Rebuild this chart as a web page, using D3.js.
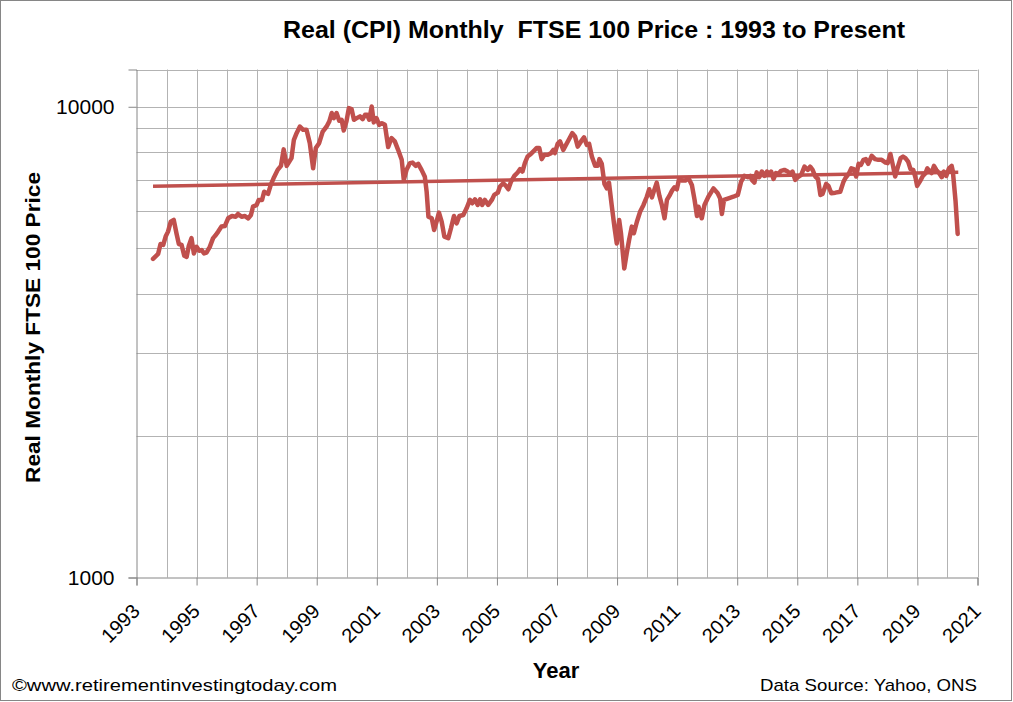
<!DOCTYPE html>
<html>
<head>
<meta charset="utf-8">
<script src="https://cdn.jsdelivr.net/npm/d3@7"></script>
<style>
  body { margin: 0; background: #fff; }
  svg { display: block; font-family: "Liberation Sans", Arial, sans-serif; }
  text { white-space: pre; }
</style>
</head>
<body>
<svg id="chart" width="1013" height="702"></svg>
<script>
// Real (CPI) monthly FTSE 100
const years = [
  1993.55, 1993.72, 1993.80, 1993.89, 1993.97, 1994.05, 1994.14, 1994.24, 1994.33, 1994.41,
  1994.50, 1994.59, 1994.67, 1994.74, 1994.83, 1994.91, 1995.00, 1995.09, 1995.17, 1995.25,
  1995.33, 1995.44, 1995.55, 1995.64, 1995.72, 1995.83, 1995.94, 1996.05, 1996.18, 1996.30,
  1996.38, 1996.50, 1996.61, 1996.72, 1996.81, 1996.88, 1997.00, 1997.07, 1997.18, 1997.25,
  1997.38, 1997.47, 1997.58, 1997.70, 1997.81, 1997.90, 1998.00, 1998.16, 1998.24, 1998.33,
  1998.44, 1998.55, 1998.66, 1998.77, 1998.88, 1998.97, 1999.08, 1999.20, 1999.33, 1999.42,
  1999.50, 1999.57, 1999.66, 1999.75, 1999.83, 1999.90, 1999.99, 2000.07, 2000.16, 2000.24,
  2000.33, 2000.44, 2000.53, 2000.61, 2000.68, 2000.75, 2000.83, 2000.90, 2000.99, 2001.08,
  2001.17, 2001.27, 2001.38, 2001.49, 2001.60, 2001.71, 2001.83, 2001.90, 2001.99, 2002.10,
  2002.19, 2002.30, 2002.38, 2002.49, 2002.60, 2002.66, 2002.72, 2002.83, 2002.91, 2002.99,
  2003.07, 2003.16, 2003.25, 2003.38, 2003.47, 2003.57, 2003.66, 2003.75, 2003.88, 2003.99,
  2004.10, 2004.18, 2004.27, 2004.36, 2004.44, 2004.51, 2004.60, 2004.71, 2004.83, 2004.91,
  2005.03, 2005.10, 2005.21, 2005.30, 2005.38, 2005.47, 2005.58, 2005.69, 2005.77, 2005.85,
  2005.93, 2006.02, 2006.13, 2006.24, 2006.32, 2006.41, 2006.49, 2006.58, 2006.69, 2006.80,
  2006.88, 2006.93, 2007.02, 2007.10, 2007.21, 2007.40, 2007.51, 2007.60, 2007.69, 2007.80,
  2007.90, 2007.99, 2008.07, 2008.16, 2008.27, 2008.36, 2008.41, 2008.49, 2008.58, 2008.66,
  2008.73, 2008.82, 2008.91, 2008.99, 2009.07, 2009.13, 2009.24, 2009.32, 2009.40, 2009.49,
  2009.56, 2009.66, 2009.77, 2009.88, 2009.99, 2010.07, 2010.16, 2010.24, 2010.32, 2010.41,
  2010.49, 2010.58, 2010.66, 2010.74, 2010.83, 2010.91, 2010.99, 2011.07, 2011.16, 2011.27,
  2011.38, 2011.49, 2011.58, 2011.66, 2011.71, 2011.82, 2011.91, 2012.04, 2012.21, 2012.35,
  2012.43, 2012.49, 2012.56, 2012.71, 2012.87, 2013.02, 2013.13, 2013.24, 2013.35, 2013.43,
  2013.49, 2013.57, 2013.65, 2013.73, 2013.82, 2013.91, 2013.99, 2014.07, 2014.13, 2014.21,
  2014.29, 2014.37, 2014.46, 2014.57, 2014.68, 2014.76, 2014.84, 2014.93, 2015.02, 2015.13,
  2015.24, 2015.35, 2015.43, 2015.51, 2015.60, 2015.69, 2015.77, 2015.84, 2015.96, 2016.04,
  2016.13, 2016.27, 2016.43, 2016.54, 2016.60, 2016.71, 2016.80, 2016.88, 2016.96, 2017.04,
  2017.12, 2017.20, 2017.28, 2017.36, 2017.48, 2017.59, 2017.70, 2017.81, 2017.94, 2018.01,
  2018.10, 2018.18, 2018.26, 2018.35, 2018.44, 2018.52, 2018.60, 2018.69, 2018.77, 2018.86,
  2018.94, 2018.99, 2019.10, 2019.18, 2019.27, 2019.33, 2019.40, 2019.47, 2019.55, 2019.63,
  2019.72, 2019.81, 2019.88, 2019.96, 2020.05, 2020.14, 2020.18, 2020.27, 2020.34
];
const realPrice = [
  4750, 4870, 5110, 5090, 5300, 5430, 5700, 5750, 5385, 5110,
  5090, 4825, 4800, 5060, 5260, 4880, 5040, 4945, 4960, 4880,
  4900, 5040, 5260, 5340, 5430, 5565, 5580, 5795, 5860, 5840,
  5920, 5840, 5860, 5795, 5890, 6135, 6187, 6340, 6340, 6600,
  6530, 6824, 7085, 7344, 7490, 8120, 7490, 7780, 8507, 8790,
  9080, 8934, 8934, 8370, 7400, 8170, 8370, 8860, 9080, 9310,
  9700, 9460, 9700, 9340, 9383, 8905, 9310, 9935, 9890, 9383,
  9460, 9540, 9410, 9616, 9616, 9383, 10010, 9265, 9460, 9156,
  9230, 9156, 8210, 8580, 8440, 8100, 7713, 6993, 7344, 7590,
  7610, 7490, 7565, 7344, 7100, 6600, 5840, 5795, 5474, 5700,
  5960, 5700, 5300, 5260, 5520, 5860, 5655, 5860, 5890, 6085,
  6340, 6238, 6360, 6187, 6360, 6187, 6340, 6187, 6340, 6498,
  6570, 6770, 6880, 6790, 6680, 6935, 7130, 7250, 7370, 7285,
  7590, 7840, 7940, 8070, 8170, 8170, 7740, 7904, 7904, 7970,
  8100, 7970, 8340, 8440, 8100, 8530, 8790, 8650, 8230, 8440,
  8610, 8301, 8340, 7840, 7490, 7490, 7740, 7565, 6857, 6710,
  6900, 6187, 5565, 5125, 5749, 5385, 4535, 4880, 5212, 5565,
  5385, 5700, 5990, 6187, 6440, 6680, 6420, 6659, 6900, 6465,
  6187, 5795, 6340, 6465, 6635, 6745, 6680, 7050, 6970, 6970,
  7050, 6824, 6340, 5860, 6135, 5795, 6187, 6440, 6710, 6550,
  6390, 5920, 6340, 6390, 6440, 6498, 6935, 7130, 7085, 7130,
  6993, 6900, 7255, 7085, 7285, 7130, 7285, 7200, 7285, 7025,
  7230, 7200, 7310, 7344, 7285, 7200, 7285, 6993, 7085, 7166,
  7460, 7344, 7460, 7344, 7110, 7025, 6498, 6530, 6857, 6790,
  6550, 6570, 6600, 6935, 7050, 7200, 7400, 7370, 7110, 7565,
  7526, 7713, 7740, 7565, 7870, 7740, 7713, 7713, 7610, 7590,
  7940, 7526, 7110, 7460, 7780, 7840, 7780, 7650, 7370, 7344,
  7050, 6790, 6970, 7130, 7230, 7400, 7310, 7230, 7490, 7344,
  7230, 7085, 7285, 7130, 7400, 7490, 7285, 6290, 5370
];

// long run trend line
const trendYears = [1993.55, 2020.36];
const trendValues = [6780, 7260];

const yTickValues = [1000, 10000];
const yGridValues = [2000, 3000, 4000, 5000, 6000, 7000, 8000, 9000, 10000, 12000];
const xTickValues = d3.range(1993, 2022, 2);
const xGridValues = d3.range(1994, 2022, 1);

const width = 1013;
const height = 702;
const plotLeft = 136.5, plotRight = 977.5, plotTop = 69.5, plotBottom = 577.5;

const lineColor = "#c0504d";
const gridColor = "#b3b3b3";
const axisColor = "#868686";

const svg = d3.select("#chart");

const x = d3.scaleLinear().domain([1993, 2021]).range([plotLeft, plotRight]);
const y = d3.scaleLog().domain([1000, 12000]).range([plotBottom, plotTop]);

// outer border
svg.append("rect")
  .attr("x", 0.5).attr("y", 0.5)
  .attr("width", width - 2).attr("height", height - 2)
  .attr("fill", "#fff")
  .attr("stroke", axisColor);

// grid
svg.append("g")
  .selectAll("line")
  .data(yGridValues)
  .join("line")
  .attr("x1", plotLeft).attr("x2", plotRight)
  .attr("y1", d => Math.round(y(d)) + 0.5)
  .attr("y2", d => Math.round(y(d)) + 0.5)
  .attr("stroke", gridColor);

svg.append("g")
  .selectAll("line")
  .data(xGridValues)
  .join("line")
  .attr("x1", d => Math.round(x(d)) + 0.5)
  .attr("x2", d => Math.round(x(d)) + 0.5)
  .attr("y1", plotTop).attr("y2", plotBottom)
  .attr("stroke", gridColor);

// axes
const yAxis = svg.append("g")
  .attr("transform", `translate(${plotLeft},0)`)
  .call(d3.axisLeft(y).tickValues(yTickValues).tickFormat(d3.format("d")).tickSize(8).tickPadding(14));

const xAxis = svg.append("g")
  .attr("transform", `translate(0,${plotBottom})`)
  .call(d3.axisBottom(x).tickValues(xTickValues).tickFormat(d3.format("d")).tickSize(8));

[yAxis, xAxis].forEach(a => {
  a.select(".domain").attr("stroke", axisColor);
  a.selectAll(".tick line").attr("stroke", axisColor);
});

yAxis.selectAll(".tick text")
  .attr("font-size", "21px")
  .attr("fill", "#000")
  .attr("font-family", "Liberation Sans, Arial, sans-serif");

xAxis.selectAll(".tick text")
  .attr("x", 0).attr("y", 0).attr("dy", 0)
  .attr("text-anchor", "end")
  .attr("transform", "translate(4,35) rotate(-45)")
  .attr("font-size", "20px")
  .attr("fill", "#000")
  .attr("font-family", "Liberation Sans, Arial, sans-serif");

// series
const line = d3.line()
  .x(d => x(d[0]))
  .y(d => y(d[1]));

svg.append("path")
  .datum(d3.zip(trendYears, trendValues))
  .attr("d", line)
  .attr("fill", "none")
  .attr("stroke", lineColor)
  .attr("stroke-width", 3.5);

svg.append("path")
  .datum(d3.zip(years, realPrice))
  .attr("d", line)
  .attr("fill", "none")
  .attr("stroke", lineColor)
  .attr("stroke-width", 4.5)
  .attr("stroke-linejoin", "round")
  .attr("stroke-linecap", "round");

// titles
svg.append("text")
  .attr("x", 594).attr("y", 38)
  .attr("text-anchor", "middle")
  .attr("font-size", "24px")
  .attr("font-weight", "bold")
  .attr("textLength", 622)
  .attr("lengthAdjust", "spacingAndGlyphs")
  .text("Real (CPI) Monthly  FTSE 100 Price : 1993 to Present");

svg.append("text")
  .attr("transform", "translate(40,327.5) rotate(-90)")
  .attr("text-anchor", "middle")
  .attr("font-size", "21px")
  .attr("font-weight", "bold")
  .attr("textLength", 311)
  .attr("lengthAdjust", "spacingAndGlyphs")
  .text("Real Monthly FTSE 100 Price");

svg.append("text")
  .attr("x", 556).attr("y", 678)
  .attr("text-anchor", "middle")
  .attr("font-size", "22px")
  .attr("font-weight", "bold")
  .text("Year");

svg.append("text")
  .attr("x", 12).attr("y", 691)
  .attr("font-size", "17px")
  .attr("textLength", 325)
  .attr("lengthAdjust", "spacingAndGlyphs")
  .text("©www.retirementinvestingtoday.com");

svg.append("text")
  .attr("x", 977).attr("y", 691)
  .attr("text-anchor", "end")
  .attr("font-size", "17px")
  .attr("textLength", 217)
  .attr("lengthAdjust", "spacingAndGlyphs")
  .text("Data Source: Yahoo, ONS");
</script>
</body>
</html>
